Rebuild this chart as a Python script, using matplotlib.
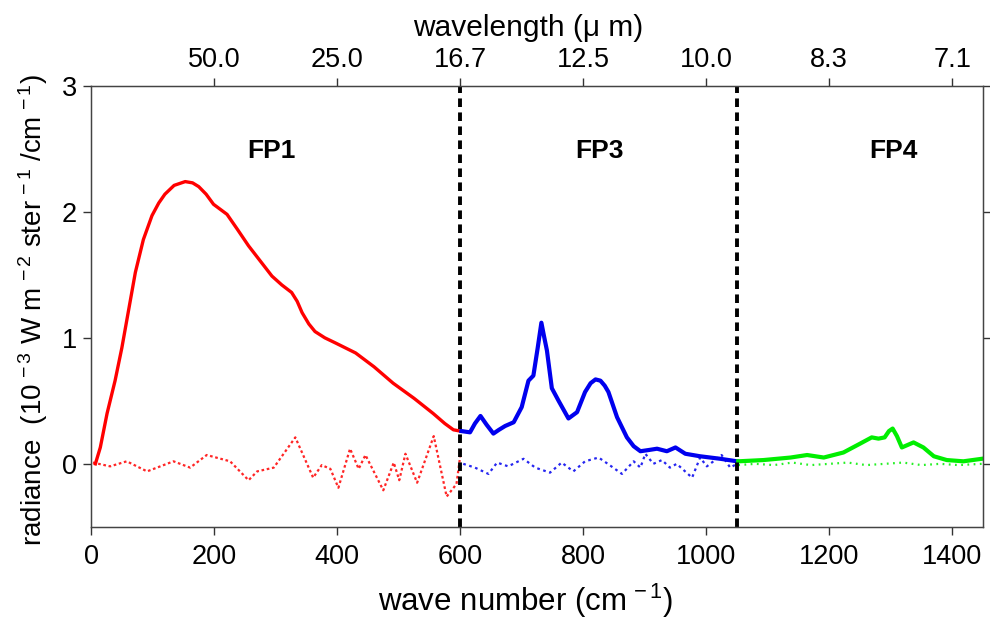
import matplotlib
matplotlib.use("Agg")
import matplotlib.pyplot as plt

plt.rcParams['font.family'] = ['Liberation Sans', 'DejaVu Sans']
plt.rcParams['mathtext.fontset'] = 'custom'
plt.rcParams['mathtext.rm'] = 'Liberation Sans'
plt.rcParams['mathtext.it'] = 'Liberation Sans'

# FP1 spectrum (red)
fp1_wn = [7, 15, 26, 39, 50, 61, 72, 85, 99, 110, 120, 135, 153, 165, 175, 187, 199, 210, 221, 238, 256, 275, 294, 310, 326, 335, 343, 354, 364, 380, 397, 430, 460, 491, 525, 556, 575, 589, 600]
fp1_val = [0.0, 0.13, 0.40, 0.66, 0.92, 1.22, 1.52, 1.78, 1.97, 2.07, 2.14, 2.21, 2.24, 2.23, 2.20, 2.14, 2.06, 2.02, 1.98, 1.86, 1.73, 1.61, 1.49, 1.42, 1.36, 1.29, 1.20, 1.11, 1.05, 1.00, 0.96, 0.88, 0.77, 0.64, 0.52, 0.40, 0.32, 0.27, 0.26]
# FP1 noise (red dotted)
fp1n_wn = [3, 31, 58, 91, 134, 161, 188, 226, 256, 270, 297, 332, 361, 375, 389, 402, 421, 435, 446, 475, 492, 501, 511, 530, 557, 578, 594, 600]
fp1n_val = [0.01, -0.02, 0.02, -0.06, 0.02, -0.03, 0.07, 0.02, -0.13, -0.06, -0.03, 0.21, -0.11, -0.01, -0.04, -0.19, 0.12, -0.04, 0.07, -0.21, 0.01, -0.13, 0.08, -0.15, 0.22, -0.26, -0.16, 0.06]

# FP3 spectrum (blue)
fp3_wn = [602, 616, 624, 633, 643, 654, 663, 673, 687, 700, 711, 719, 726, 732, 736, 741, 749, 760, 776, 790, 803, 812, 820, 828, 835, 841, 855, 871, 882, 893, 907, 920, 936, 950, 966, 990, 1023, 1050]
fp3_val = [0.26, 0.25, 0.32, 0.38, 0.31, 0.24, 0.27, 0.30, 0.33, 0.45, 0.66, 0.70, 0.92, 1.12, 1.02, 0.90, 0.60, 0.50, 0.36, 0.41, 0.57, 0.64, 0.67, 0.66, 0.62, 0.57, 0.37, 0.21, 0.14, 0.10, 0.11, 0.12, 0.10, 0.13, 0.08, 0.06, 0.04, 0.02]
# FP3 noise (blue dotted)
fp3n_wn = [605, 624, 646, 660, 678, 703, 722, 746, 765, 784, 803, 825, 840, 863, 882, 893, 901, 914, 928, 941, 952, 977, 990, 1001, 1025, 1039, 1050]
fp3n_val = [0.0, -0.03, -0.08, 0.01, -0.02, 0.04, -0.03, -0.07, 0.01, -0.06, 0.02, 0.05, 0.0, -0.08, 0.02, -0.03, 0.08, 0.0, 0.03, -0.03, 0.0, -0.11, 0.05, -0.02, 0.07, -0.03, 0.0]

# FP4 spectrum (green)
fp4_wn = [1052, 1093, 1137, 1164, 1191, 1223, 1250, 1269, 1280, 1290, 1297, 1303, 1310, 1318, 1337, 1353, 1370, 1391, 1418, 1448]
fp4_val = [0.02, 0.03, 0.05, 0.07, 0.05, 0.09, 0.16, 0.21, 0.20, 0.21, 0.26, 0.28, 0.22, 0.13, 0.17, 0.13, 0.06, 0.03, 0.02, 0.04]
# FP4 noise (green dotted)
fp4n_wn = [1052, 1080, 1110, 1140, 1170, 1200, 1230, 1260, 1290, 1320, 1350, 1380, 1410, 1448]
fp4n_val = [-0.01, 0.0, -0.01, 0.01, -0.01, 0.0, 0.01, -0.01, 0.0, 0.01, -0.01, 0.0, -0.01, 0.0]

boundaries = [600, 1050]
labels = ["FP1", "FP3", "FP4"]
label_x = [293, 826, 1304]

top_ticks = [200, 400, 600, 800, 1000, 1200, 1400]
top_labels = ["50.0", "25.0", "16.7", "12.5", "10.0", "8.3", "7.1"]

fig = plt.figure(figsize=(9.9, 6.22), dpi=100)
ax = fig.add_axes([0.092, 0.153, 0.901, 0.709])

ax.plot(fp1_wn, fp1_val, color='#ff0000', lw=2.4, solid_joinstyle='round')
ax.plot(fp1n_wn, fp1n_val, color='#ff0000', lw=1.6, ls=(0, (1.2, 1.2)), alpha=0.85)
ax.plot(fp3_wn, fp3_val, color='#0000ee', lw=3.0, solid_joinstyle='round')
ax.plot(fp3n_wn, fp3n_val, color='#0000ee', lw=1.6, ls=(0, (1.2, 1.6)), alpha=0.85)
ax.plot(fp4_wn, fp4_val, color='#00ee00', lw=3.0, solid_joinstyle='round')
ax.plot(fp4n_wn, fp4n_val, color='#00ee00', lw=1.6, ls=(0, (0.8, 2.0)), alpha=0.85)

for b in boundaries:
    ax.axvline(b, color='black', lw=2.8, ls=(0, (2.2, 1.4)))

for lx, lab in zip(label_x, labels):
    ax.text(lx, 2.48, lab, ha='center', va='center', fontsize=19, fontweight='bold')

ax.set_xlim(0, 1450)
ax.set_ylim(-0.5, 3)
ax.set_xticks([0, 200, 400, 600, 800, 1000, 1200, 1400])
ax.set_yticks([0, 1, 2, 3])
ax.set_yticklabels(["0", "1", "2", "3"])
ax.tick_params(axis='both', direction='out', length=6, width=1, labelsize=19.5, color='#333333')
ax.tick_params(axis='y', right=True, pad=4)
ax.tick_params(axis='x', pad=6)
for s in ax.spines.values():
    s.set_color('#444444')
    s.set_linewidth(1.0)

ax.set_xlabel("wave number (cm$^{\\,-1}$)", fontsize=22.5)
ax.xaxis.set_label_coords(0.487, -0.125)
ax.set_ylabel("radiance  (10$^{\\,-3}$ W m$^{\\,-2}$ ster$^{\\,-1}$ /cm$^{\\,-1}$)", fontsize=20)
ax.yaxis.set_label_coords(-0.046, 0.492)

ax2 = ax.twiny()
ax2.set_xlim(ax.get_xlim())
ax2.set_xticks(top_ticks)
ax2.set_xticklabels(top_labels)
ax2.tick_params(axis='x', direction='out', length=6, width=1, labelsize=19.5, color='#333333', pad=3)
for s in ax2.spines.values():
    s.set_color('#444444')
ax2.set_xlabel("wavelength (μ m)", fontsize=21.5)
ax2.xaxis.set_label_coords(0.49, 1.114)

fig.savefig("out.png", dpi=100)
